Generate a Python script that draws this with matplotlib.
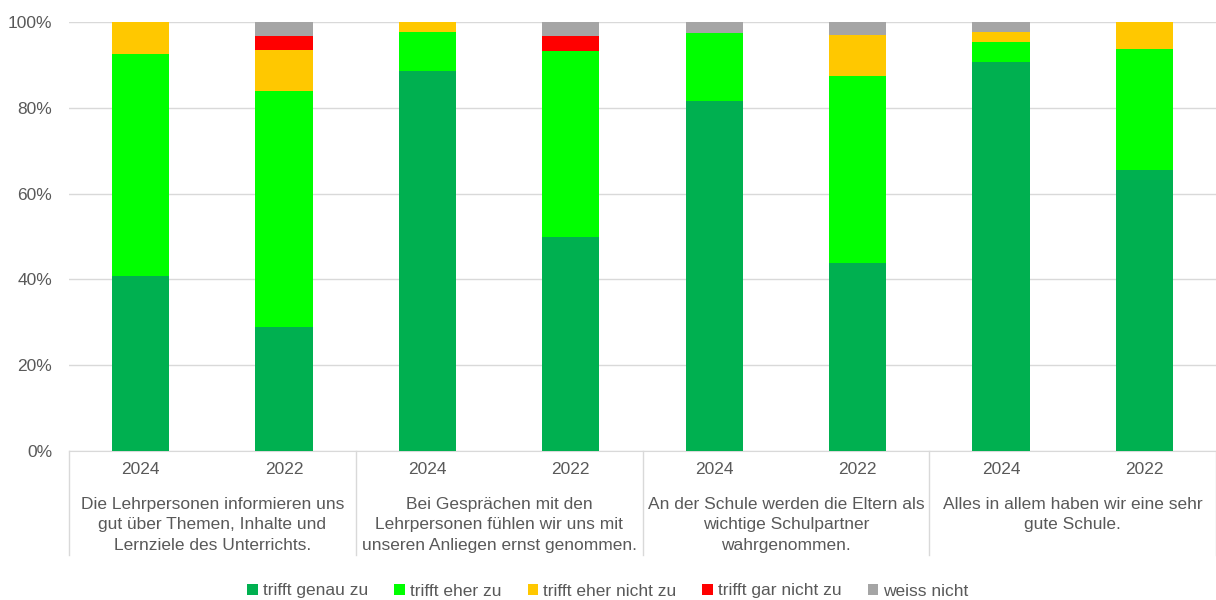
import numpy as np
import matplotlib.pyplot as plt
from matplotlib.transforms import blended_transform_factory

plt.rcParams['font.family'] = ['Liberation Sans', 'DejaVu Sans']

# Daten (Anteile in %)
jahre = ["2024", "2022", "2024", "2022", "2024", "2022", "2024", "2022"]
fragen = ["Die Lehrpersonen informieren uns\ngut über Themen, Inhalte und\nLernziele des Unterrichts.",
          "Bei Gesprächen mit den\nLehrpersonen fühlen wir uns mit\nunseren Anliegen ernst genommen.",
          "An der Schule werden die Eltern als\nwichtige Schulpartner\nwahrgenommen.",
          "Alles in allem haben wir eine sehr\ngute Schule."]
kategorien = ["trifft genau zu", "trifft eher zu", "trifft eher nicht zu", "trifft gar nicht zu", "weiss nicht"]

genau_zu = [40.7, 29.0, 88.6, 50.0, 81.6, 43.8, 90.7, 65.5]
eher_zu = [51.9, 54.8, 9.0, 43.3, 15.8, 43.7, 4.7, 28.1]
eher_nicht_zu = [7.4, 9.7, 2.4, 0.0, 0.0, 9.4, 2.3, 6.4]
gar_nicht_zu = [0.0, 3.2, 0.0, 3.4, 0.0, 0.0, 0.0, 0.0]
weiss_nicht = [0.0, 3.3, 0.0, 3.3, 2.6, 3.1, 2.3, 0.0]

farben = ["#00B050", "#00FF00", "#FFC800", "#FF0000", "#A5A5A5"]
grau = "#595959"

fig = plt.figure(figsize=(12.16, 6), dpi=100)
ax = fig.add_axes([69/1216, 1-451/600, 1-69/1216, 429/600])

x = np.arange(len(jahre))
serien = [genau_zu, eher_zu, eher_nicht_zu, gar_nicht_zu, weiss_nicht]
unten = np.zeros(len(jahre))
for werte, farbe, name in zip(serien, farben, kategorien):
    ax.bar(x, werte, 0.4, bottom=unten, color=farbe, label=name, zorder=3)
    unten = unten + np.array(werte)

ax.set_xlim(-0.5, 7.5)
ax.set_ylim(0, 100)
ax.set_yticks([0, 20, 40, 60, 80, 100])
ax.set_yticklabels(["0%", "20%", "40%", "60%", "80%", "100%"])
ax.yaxis.grid(True, color="#D9D9D9", linewidth=1)
ax.set_axisbelow(True)
ax.tick_params(axis='y', length=0, labelsize=12.5, labelcolor=grau, pad=12)
ax.set_xticks(x)
ax.set_xticklabels(jahre)
ax.tick_params(axis='x', length=0, labelsize=12.5, labelcolor=grau, pad=8)
for s in ["left", "right", "top"]:
    ax.spines[s].set_visible(False)
ax.spines["bottom"].set_color("#D9D9D9")

trans = blended_transform_factory(ax.transData, ax.transAxes)
for i, frage in enumerate(fragen):
    ax.text(2*i + 0.5, -0.107, frage, transform=trans, ha="center", va="top",
            fontsize=12.5, color=grau, linespacing=1.45)
for xs in [-0.5, 1.5, 3.5, 5.5, 7.5]:
    ax.plot([xs, xs], [0, -0.243], transform=trans, color="#D9D9D9",
            linewidth=1, clip_on=False)

fig.legend(loc="center", bbox_to_anchor=(0.5, 1-591/600), ncol=5, frameon=False,
           fontsize=12.5, labelcolor=grau, handlelength=0.6, handleheight=0.6,
           handletextpad=0.3, columnspacing=1.5)

plt.savefig("out.png", dpi=100)
